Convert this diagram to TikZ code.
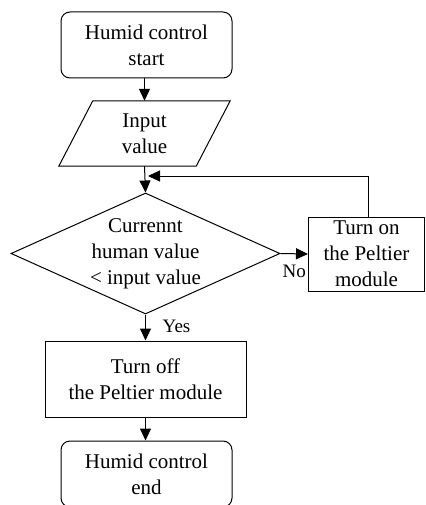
\documentclass[tikz,border=0pt]{standalone}
\usepackage{fontspec}
\setmainfont{Liberation Serif}
\usetikzlibrary{arrows.meta,shapes.geometric,calc}
\begin{document}
\begin{tikzpicture}[x=1pt,y=-1pt,
  every node/.style={font=\fontsize{21}{26}\selectfont, align=center, inner sep=0pt},
  term/.style={draw, line width=1pt, rounded corners=9pt, minimum width=171pt, minimum height=66pt},
  proc/.style={draw, line width=1pt, rectangle},
  arr/.style={line width=1pt, -{Triangle[width=11pt,length=12pt]}},
  lbl/.style={font=\fontsize{19}{22}\selectfont}]
\useasboundingbox (0,0) rectangle (425,505);
\node[term] (start) at (146.5,45) {Humid control\\start};
\node[minimum width=137pt, minimum height=65pt] (inp) at (144.5,133.5) {Input\\value};
\draw[line width=1pt] ($(inp.north west)+(17,0)$) -- ($(inp.north east)+(17,0)$) -- ($(inp.south east)+(-17,0)$) -- ($(inp.south west)+(-17,0)$) -- cycle;
\node[draw, diamond, line width=1pt, minimum width=269pt, minimum height=121pt, inner sep=0pt] (dia) at (145.5,253.5) {};
\node (diat) at (dia.center) {Currennt\\human value\\< input value};
\node[proc, minimum width=116pt, minimum height=74pt] (on) at (366.5,254) {Turn on\\the Peltier\\module};
\node[proc, minimum width=201pt, minimum height=76pt] (off) at (145.5,379) {Turn off\\the Peltier module};
\node[term] (end) at (146.5,474) {Humid control\\end};
\coordinate (join) at (148,176);
\draw[arr] (start.south -| inp.north) -- (inp.north);
\draw[arr] (inp.south) -- (dia.north);
\draw[arr] (dia.east) -- (on.west);
\node[lbl, anchor=base west] (no) at ($(dia.east)+(2,24)$) {No};
\draw[arr] ([xshift=1.5pt]on.north) |- (join);
\draw[arr] (dia.south) -- (off.north);
\node[lbl, anchor=base west] (yes) at ($(dia.south)+(17,18)$) {Yes};
\draw[arr] (off.south) -- (off.south |- end.north);
\end{tikzpicture}
\end{document}
